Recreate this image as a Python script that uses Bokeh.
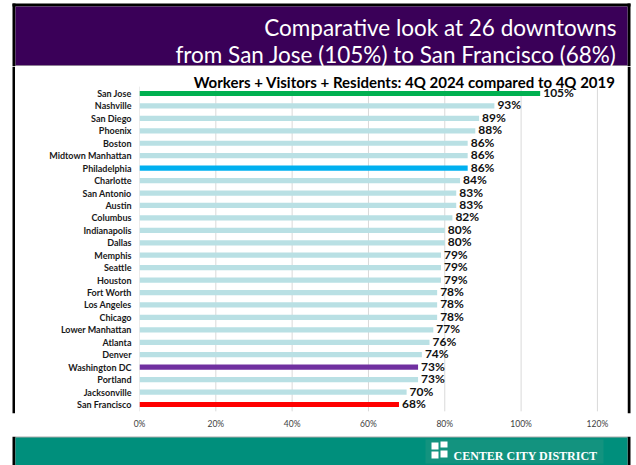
from bokeh.plotting import figure
from bokeh.layouts import column, row
from bokeh.models import (ColumnDataSource, Range1d, FixedTicker,
                          PrintfTickFormatter, LabelSet, Label)
from bokeh.core.properties import value
from bokeh.embed import file_html
from bokeh.resources import INLINE

# Downtown recovery: workers + visitors + residents, 4Q 2024 as % of 4Q 2019
cities = ["San Jose", "Nashville", "San Diego", "Phoenix", "Boston",
          "Midtown Manhattan", "Philadelphia", "Charlotte", "San Antonio",
          "Austin", "Columbus", "Indianapolis", "Dallas", "Memphis", "Seattle",
          "Houston", "Fort Worth", "Los Angeles", "Chicago", "Lower Manhattan",
          "Atlanta", "Denver", "Washington DC", "Portland", "Jacksonville",
          "San Francisco"]
values = [105, 93, 89, 88, 86, 86, 86, 84, 83, 83, 82, 80, 80, 79, 79, 79,
          78, 78, 78, 77, 76, 74, 73, 73, 70, 68]
x_ticks = [0, 20, 40, 60, 80, 100, 120]

title_lines = ["Comparative look at 26 downtowns",
               "from San Jose (105%) to San Francisco (68%)"]
subtitle = "Workers + Visitors + Residents: 4Q 2024 compared to 4Q 2019"
brand = "CENTER CITY DISTRICT"

BASE = "#b9e0e4"
HIGHLIGHT = {"San Jose": "#00b050", "Philadelphia": "#00b0f0",
             "Washington DC": "#7030a0", "San Francisco": "#ff0000"}
PURPLE = "#3a0058"
TEAL = "#008f7c"
FONT = value("Lato")

W = 636
HEAD_H, BODY_H, FOOT_H = 66, 370, 29


def panel(width, height):
    """An axis-free figure whose frame fills it, in pixel-like units (y down)."""
    f = figure(width=width, height=height, output_backend="svg",
               toolbar_location=None, tools="",
               x_axis_type=None, y_axis_type=None,
               x_range=Range1d(0, width), y_range=Range1d(height, 0),
               min_border=0)
    f.grid.visible = False
    f.outline_line_color = None
    f.background_fill_color = "white"
    f.border_fill_color = "white"
    return f


def block(f, l, r, t, b, color):
    f.quad(left=[l], right=[r], top=[t], bottom=[b], color=color,
           line_color=None)


# ---- header: title band
head = panel(W, HEAD_H)
block(head, 12, 630, 3, 6, "black")
block(head, 12, 15, 3, HEAD_H, "black")
block(head, 627, 630, 3, HEAD_H, "black")
block(head, 15, 627, 6, 65, PURPLE)
block(head, 15, 627, 65, 66, "#808080")
head.text(x=[616, 616], y=[26.5, 53.5], text=title_lines, text_font=FONT,
          text_font_size="22.5px", text_color="white", text_align="right",
          text_baseline="alphabetic")

# ---- side strips carrying the black frame lines
left_strip = panel(15, BODY_H)
block(left_strip, 12, 15, 0, BODY_H, "black")
right_strip = panel(9, BODY_H)
block(right_strip, 0, 3, 0, BODY_H, "black")

# ---- bar chart (rows run top to bottom: row 0 = first city)
rows = list(range(len(cities)))
source = ColumnDataSource(dict(
    row=rows,
    city=cities,
    value=values,
    color=[HIGHLIGHT.get(c, BASE) for c in cities],
    label=[f"{v}%" for v in values],
))

FRAME_LEFT, FRAME_RIGHT_PAD, FRAME_BOTTOM_PAD = 124, 11, 23
p = figure(width=612, height=BODY_H, output_backend="svg",
           toolbar_location=None, tools="",
           x_range=Range1d(0, 125),
           # extra room above the first row holds the subtitle
           y_range=Range1d(len(cities) - 0.276, -2.17),
           min_border_left=FRAME_LEFT, min_border_right=FRAME_RIGHT_PAD,
           min_border_top=0, min_border_bottom=FRAME_BOTTOM_PAD)
p.outline_line_color = None
p.background_fill_color = "white"
p.border_fill_color = "white"
p.xgrid.visible = False
p.ygrid.visible = False

# vertical gridlines spanning the bar rows only
p.segment(x0=x_ticks, x1=x_ticks, y0=[-0.55] * len(x_ticks),
          y1=[len(cities) - 0.45] * len(x_ticks), line_color="#d9d9d9",
          line_width=1)

p.hbar(y="row", right="value", left=0, height=0.42, color="color",
       line_color=None, source=source)

p.add_layout(LabelSet(x="value", y="row", text="label", source=source,
                      x_offset=3, y_offset=1, text_baseline="middle",
                      text_font=FONT, text_font_style="bold",
                      text_font_size="12px", text_color="#111111"))

# subtitle sits in the band above the first row, right-aligned
frame_w = 612 - FRAME_LEFT - FRAME_RIGHT_PAD
frame_h = BODY_H - FRAME_BOTTOM_PAD
p.add_layout(Label(x=frame_w - 1, y=frame_h - 15.2, x_units="screen",
                   y_units="screen", text=subtitle, text_font="Lato",
                   text_font_style="bold", text_font_size="15px",
                   text_color="black", text_align="right",
                   text_baseline="alphabetic"))

p.xaxis.ticker = FixedTicker(ticks=x_ticks)
p.xaxis.formatter = PrintfTickFormatter(format="%d%%")
p.xaxis.axis_line_color = None
p.xaxis.major_tick_line_color = None
p.xaxis.minor_tick_line_color = None
p.xaxis.major_tick_out = 0
p.xaxis.major_tick_in = 0
p.xaxis.minor_tick_out = 0
p.xaxis.major_label_standoff = 5
p.xaxis.major_label_text_font = "Lato"
p.xaxis.major_label_text_font_size = "8.5px"
p.xaxis.major_label_text_color = "#404040"

p.yaxis.ticker = FixedTicker(ticks=rows)
p.yaxis.major_label_overrides = {r: c for r, c in zip(rows, cities)}
p.yaxis.axis_line_color = None
p.yaxis.major_tick_line_color = None
p.yaxis.minor_tick_line_color = None
p.yaxis.major_tick_out = 0
p.yaxis.major_tick_in = 0
p.yaxis.minor_tick_out = 0
p.yaxis.major_label_standoff = 8
p.yaxis.major_label_text_font = "Lato"
p.yaxis.major_label_text_font_style = "bold"
p.yaxis.major_label_text_font_size = "9px"
p.yaxis.major_label_text_color = "#1a1a1a"

# ---- footer: brand band
foot = panel(W, FOOT_H)
block(foot, 12, 15, 0, FOOT_H, "black")
block(foot, 627, 630, 0, FOOT_H, "black")
block(foot, 15, 627, 0, 1, "#595959")
block(foot, 15, 627, 1, FOOT_H, TEAL)
block(foot, 425, 603, 3, 27, "#13937f")
# logo mark
foot.quad(left=[431, 440, 431, 440], right=[438, 447, 438, 447],
          top=[6, 5, 15, 14], bottom=[13, 11, 22, 21], color="white",
          line_color=None)
foot.text(x=[453], y=[19], text=[brand], text_font=value("Liberation Serif"),
          text_font_style="bold", text_font_size="12px", text_color="white",
          text_align="left", text_baseline="alphabetic")

layout = column(head, row(left_strip, p, right_strip, spacing=0), foot,
                spacing=0)

open("out.html", "w").write(file_html(layout, INLINE))
